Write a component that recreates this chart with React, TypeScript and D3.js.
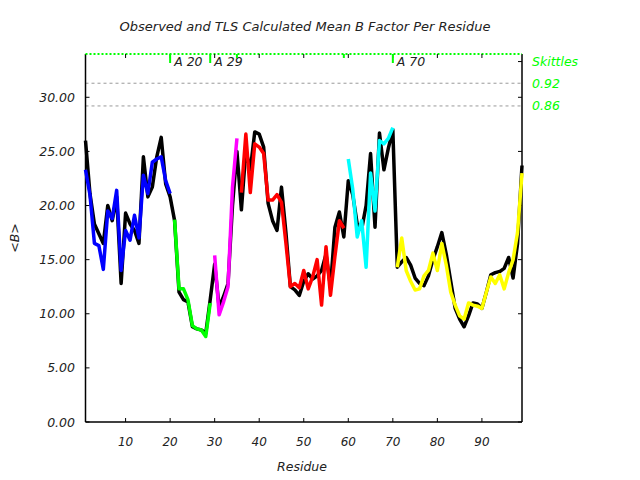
import React from 'react';
import * as d3 from 'd3';

const firstResidue = 1;
const lastResidue = 99;

const observed = [
  26.0, 21.1, 18.3, 17.4, 16.5, 20.0, 18.6, 20.8, 12.8, 19.3,
  18.3, 17.7, 16.5, 24.5, 20.8, 21.7, 24.5, 26.3, 22.0, 20.8,
  18.6, 12.0, 11.3, 11.1, 8.8, 8.6, 8.5, 8.2, 11.3, 14.6,
  10.6, 11.6, 12.8, 20.0, 25.0, 19.6, 25.1, 23.3, 26.8, 26.6,
  25.4, 20.2, 18.6, 17.7, 21.7, 17.5, 12.5, 12.2, 11.7, 13.0,
  13.7, 13.2, 13.5, 14.0, 15.5, 12.5, 18.0, 19.4, 17.1, 22.3,
  21.0, 18.3, 17.8, 20.0, 24.8, 18.0, 26.7, 23.3, 25.3, 27.0,
  14.3, 14.8, 15.2, 14.5, 13.3, 12.8, 12.6, 13.5, 15.0, 16.2,
  17.5, 15.5, 13.0, 10.5, 9.5, 8.8, 9.8, 11.0, 10.9, 10.5,
  12.0, 13.6, 13.8, 13.9, 14.2, 15.2, 13.3, 16.5, 23.7,
];

const calculated = [
  23.3, 21.0, 16.5, 16.3, 14.1, 19.5, 18.8, 21.4, 14.0, 17.7,
  16.8, 19.1, 17.0, 22.8, 21.1, 24.0, 24.3, 24.5, 22.3, 21.1,
  18.7, 12.3, 12.3, 11.3, 8.9, 8.6, 8.5, 7.9, 11.0, 15.4,
  9.9, 11.1, 12.5, 21.7, 26.2, 21.2, 26.6, 21.2, 25.7, 25.4,
  24.8, 20.5, 20.5, 21.0, 20.3, 16.5, 12.5, 12.8, 12.4, 14.0,
  12.3, 13.4, 15.0, 10.8, 16.2, 11.7, 15.3, 18.6, 17.9, 24.3,
  21.5, 17.1, 18.6, 14.3, 23.0, 19.5, 26.0, 25.7, 26.2, 27.2,
  14.3, 17.0, 14.0, 13.0, 12.2, 12.3, 13.5, 14.0, 15.6, 14.0,
  16.5, 14.5, 12.0, 10.8, 9.8, 9.5, 11.0, 10.8, 10.7, 10.5,
  12.0, 13.4, 12.8, 13.6, 12.3, 13.8, 15.0, 17.5, 23.0,
];

const groupStarts = [1, 21, 30, 36, 60, 71];
const groupEnds = [20, 29, 35, 59, 70, 99];
const groupColors = ['#0000ff', '#00ff00', '#ff00ff', '#ff0000', '#00ffff', '#ffff00'];

const markerResidues = [20, 29, 35, 59, 70];
const markerLabels = ['A 20', 'A 29', '', '', 'A 70'];

const yTicks = [0, 5, 10, 15, 20, 25, 30];
const xTicks = [10, 20, 30, 40, 50, 60, 70, 80, 90];
const skittleValues = [31.3, 29.2];
const skittleLabels = ['0.92', '0.86'];
const skittleTitleValue = 33.3;

const W = 640;
const H = 480;
const left = 85.5;
const right = 522;
const top = 54;
const bottom = 422;
const font = '"DejaVu Sans", Verdana, sans-serif';

export default function App() {
  const x = d3.scaleLinear().domain([firstResidue, lastResidue]).range([left, right]);
  const y = d3.scaleLinear().domain([0, 34]).range([bottom, top]);
  const line = d3
    .line<[number, number]>()
    .x((d) => x(d[0]))
    .y((d) => y(d[1]));

  const obsPts: [number, number][] = observed.map((v, i) => [firstResidue + i, v]);
  const groupPaths = groupStarts.map((s, gi) => {
    const pts: [number, number][] = [];
    for (let r = s; r <= groupEnds[gi]; r++) pts.push([r, calculated[r - firstResidue]]);
    return { d: line(pts) || '', color: groupColors[gi] };
  });

  return (
    <svg
      width={W}
      height={H}
      style={{ position: 'absolute', left: 0, top: 0, background: '#fff' }}
      fontFamily={font}
    >
      <rect x={0} y={0} width={W} height={H} fill="#fff" />
      <text x={305} y={31} textAnchor="middle" fontSize={13} fontStyle="italic" fill="#222">
        Observed and TLS Calculated Mean B Factor Per Residue
      </text>

      {skittleValues.map((v, i) => (
        <line key={'sk' + i} x1={left} x2={right} y1={y(v)} y2={y(v)} stroke="#999" strokeWidth={1} strokeDasharray="3,3" />
      ))}

      <line x1={left} x2={left} y1={top} y2={bottom} stroke="#000" strokeWidth={1.5} />
      <line x1={right} x2={right} y1={top} y2={bottom} stroke="#000" strokeWidth={1.5} />
      <line x1={left} x2={right} y1={bottom} y2={bottom} stroke="#000" strokeWidth={1.5} />
      <line x1={left} x2={right} y1={top} y2={top} stroke="#00ff00" strokeWidth={2} strokeDasharray="2,2" />

      {yTicks.map((t) => (
        <g key={'yt' + t}>
          <line x1={left} x2={left + 4} y1={y(t)} y2={y(t)} stroke="#000" />
          <line x1={right - 4} x2={right} y1={y(t)} y2={y(t)} stroke="#000" />
          <text x={75} y={y(t) + 4.5} textAnchor="end" fontSize={12.5} fontStyle="italic" fill="#222">
            {t.toFixed(2)}
          </text>
        </g>
      ))}
      <line x1={right - 4} x2={right} y1={y(skittleTitleValue)} y2={y(skittleTitleValue)} stroke="#000" />

      {xTicks.map((t) => (
        <g key={'xt' + t}>
          <line x1={x(t)} x2={x(t)} y1={bottom} y2={bottom - 4} stroke="#000" />
          <line x1={x(t)} x2={x(t)} y1={top} y2={top + 4} stroke="#000" />
          <text x={x(t)} y={446} textAnchor="middle" fontSize={12} fontStyle="italic" fill="#222">
            {t}
          </text>
        </g>
      ))}

      {markerResidues.map((r, i) => (
        <g key={'mk' + r}>
          <line
            x1={x(r)}
            x2={x(r)}
            y1={top}
            y2={markerLabels[i] ? top + 9 : top + 4}
            stroke="#00ff00"
            strokeWidth={2}
          />
          {markerLabels[i] && (
            <text x={x(r) + 4} y={top + 12} fontSize={12.5} fontStyle="italic" fill="#222">
              {markerLabels[i]}
            </text>
          )}
        </g>
      ))}

      <text x={532} y={y(skittleTitleValue) + 4.5} fontSize={12.5} fontStyle="italic" fill="#00ff00">
        Skittles
      </text>
      {skittleValues.map((v, i) => (
        <text key={'sl' + i} x={532} y={y(v) + 4.5} fontSize={12.5} fontStyle="italic" fill="#00ff00">
          {skittleLabels[i]}
        </text>
      ))}

      <path d={line(obsPts) || ''} fill="none" stroke="#000" strokeWidth={3.5} strokeLinejoin="round" />
      {groupPaths.map((g, i) => (
        <path key={'g' + i} d={g.d} fill="none" stroke={g.color} strokeWidth={3.5} strokeLinejoin="round" />
      ))}

      <text x={302} y={471} textAnchor="middle" fontSize={12.5} fontStyle="italic" fill="#222">
        Residue
      </text>
      <text
        transform={`translate(19, ${(top + bottom) / 2}) rotate(-90)`}
        textAnchor="middle"
        fontSize={12.5}
        fontStyle="italic"
        fill="#222"
      >
        {'<B>'}
      </text>
    </svg>
  );
}
